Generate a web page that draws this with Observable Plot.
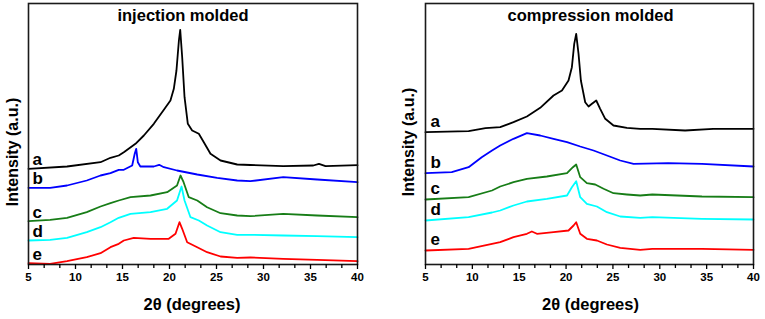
<!DOCTYPE html>
<html>
<head>
<meta charset="utf-8">
<script src="https://cdn.jsdelivr.net/npm/d3@7"></script>
<script src="https://cdn.jsdelivr.net/npm/@observablehq/plot@0.6"></script>
<style>
  body { margin: 0; background: #fff; }
  #wrap { position: relative; width: 765px; height: 319px; overflow: hidden; background: #fff; }
  #wrap svg { position: absolute; top: 0; }
</style>
</head>
<body>
<div id="wrap"></div>
<script>
// ---------- data (2θ in degrees, intensity in arbitrary units) ----------
const seriesNames  = ["a", "b", "c", "d", "e"];
const seriesColors = ["#000000", "#0000ff", "#177d17", "#00ffff", "#ff0000"];
const panelTitles  = ["injection molded", "compression molded"];
const xLabel = "2θ (degrees)";
const yLabel = "Intensity (a.u.)";
const xTicks = [5, 10, 15, 20, 25, 30, 35, 40];
const xMinorTicks = [6.667, 8.333, 11.667, 13.333, 16.667, 18.333, 21.667, 23.333,
                     26.667, 28.333, 31.667, 33.333, 36.667, 38.333];

// injection molded
const injA = [[5,95.7],[9.1,98],[12.66,102.3],[13.72,106.7],[14.6,109],[15.14,112.3],[16.38,120.7],
  [17.27,129],[18.33,140.7],[19.4,154.7],[20.1,164],[20.46,175.7],[20.74,194],[21.0,224],[21.14,234.7],
  [21.35,207.3],[21.6,167.3],[21.95,140.7],[22.41,134],[23.12,130.7],[23.65,122.3],[24.36,110.7],
  [25.43,104],[27.2,100],[28.6,99.5],[32.1,98.3],[35.3,99],[35.9,100.7],[36.6,98.3],[40,99.3]];
const injB = [[5,76.7],[7.3,76.7],[9.1,79],[11.2,84],[12.66,89],[13.72,91.3],[14.6,94.7],[15.14,94.7],
  [16.03,99],[16.3,110.7],[16.46,115.7],[16.63,102.3],[16.9,98],[18.33,98],[18.9,99.7],[19.4,97.3],
  [20.8,94],[22.95,90],[25.07,86.7],[27.2,84],[28.6,83.3],[32.1,87.3],[35.7,85],[40,82.3]];
const injC = [[5,43.3],[7.3,44.7],[9.1,46.7],[11.2,52.3],[12.66,58],[13.72,61.3],[14.6,64],[15.85,67.3],
  [17.98,69],[19.75,72.3],[20.8,79],[21.17,89],[21.5,82.3],[22.05,67.3],[22.95,64],[24.0,57.3],
  [25.43,51.3],[27.2,49],[28.6,48.3],[32.1,50.7],[35.7,49],[40,47.3]];
const injD = [[5,24],[7.3,24.7],[9.1,26.7],[11.2,32.3],[12.66,37.3],[13.72,42.3],[14.6,46.7],[15.85,50.7],
  [17.98,52.3],[19.75,55.7],[20.8,64],[21.28,78],[21.6,64],[22.23,47.3],[23.12,44],[24.0,39],
  [25.43,32.3],[27.2,29.7],[28.6,29.7],[32.1,29],[35.7,28.3],[40,27.3]];
const injE = [[5,1.3],[7.3,0.7],[9.1,3.3],[11.2,7.3],[12.66,11.3],[13.72,17.3],[14.6,20.7],[15.14,24],
  [16.2,26.7],[17.98,25.7],[19.92,25.7],[20.64,30.7],[21.06,42.3],[21.35,35.7],[21.88,22.3],[22.95,17.3],
  [24.0,12.3],[25.43,8],[27.2,6.7],[28.6,7],[32.1,5.7],[35.7,4.7],[40,3.3]];

// compression molded
const cmpA = [[5,132.3],[9.6,133.3],[11.4,136.3],[12.97,137.3],[14.39,142.3],[15.82,148],[17.24,156.7],
  [18.66,169],[19.56,174],[20.26,184],[20.62,197.3],[20.87,220.7],[21.08,230.7],[21.33,210.7],[21.58,184],
  [22.04,162.3],[22.4,158],[22.76,160.7],[23.22,164],[23.64,155.7],[24.18,145.7],[25.06,139],[26.49,136.7],
  [27.91,135.7],[29.2,135.7],[32.7,134],[35.7,135.7],[40,135.7]];
const cmpB = [[5,91.3],[7.8,92.3],[9.6,97.3],[11.0,107.3],[12.1,114],[12.97,119],[14.39,125.7],[15.82,131.3],
  [17.24,129],[18.66,125.7],[20.1,122.3],[21.51,118],[22.93,114],[24.36,109],[25.78,104],[27.2,100.7],
  [30.9,101.3],[34.5,100.7],[40,98]];
const cmpC = [[5,65],[9.6,67.3],[12.1,74],[12.97,78],[14.39,82.3],[15.82,85.7],[17.95,88],[20.1,91.3],
  [20.73,97.3],[21.08,100],[21.51,87.3],[22.22,81.3],[23.11,80],[24.0,75.7],[25.06,71.3],[26.49,70],
  [27.91,69],[29.2,70],[34.5,68],[40,67.3]];
const cmpD = [[5,44],[9.6,47.3],[12.1,52],[12.97,54],[14.39,59],[15.82,63],[17.95,65.7],[20.1,69],
  [20.62,77.3],[21.08,83.3],[21.51,67.3],[22.22,60.7],[23.29,58],[24.36,52.3],[25.78,48],[27.91,46.7],
  [29.2,47.3],[34.5,45.7],[40,45]];
const cmpE = [[5,14],[9.6,15.7],[12.1,20.7],[12.97,22.3],[14.39,27.3],[15.82,30.7],[16.35,33],[16.89,30.7],
  [18.66,32.3],[20.26,34],[20.8,39],[21.08,42.3],[21.51,30.7],[22.22,25.7],[23.29,24],[24.36,20],
  [25.78,16.7],[27.91,14.7],[29.2,15.7],[34.5,15.7],[40,14.7]];

const injSeries = [injA, injB, injC, injD, injE];
const cmpSeries = [cmpA, cmpB, cmpC, cmpD, cmpE];

// ---------- rendering ----------
const FONT = "'Liberation Sans', Arial, Helvetica, sans-serif";

function rows(seriesList) {
  return seriesList.flatMap((pts, i) => pts.map(([x, y]) => ({x, y, s: seriesNames[i]})));
}

function panel({title, seriesList, width, marginLeft, marginRight, labelDx, labelDy,
                yLabDx, yLabDy, titleDx, xLabDx}) {
  const data = rows(seriesList);
  const starts = seriesList.map((pts, i) => ({x: pts[0][0], y: pts[0][1], s: seriesNames[i]}));
  return Plot.plot({
    width, height: 319,
    marginLeft, marginRight, marginTop: 3, marginBottom: 55,
    x: {domain: [5, 40], label: null},
    y: {domain: [0, 261], axis: null},
    color: {domain: seriesNames, range: seriesColors},
    style: {fontFamily: FONT, fontWeight: "bold", background: "transparent", overflow: "visible", color: "#000"},
    marks: [
      Plot.line(data, {x: "x", y: "y", z: "s", stroke: "s", strokeWidth: 1.8, strokeLinejoin: "round"}),
      Plot.frame({stroke: "#1a1a1a", strokeWidth: 1.6}),
      Plot.axisX(xTicks, {anchor: "bottom", tickSize: 5, tickPadding: 3, fontSize: 11.5,
                          strokeWidth: 1.3, label: null}),
      Plot.axisX(xMinorTicks, {anchor: "bottom", tickSize: 4, tickFormat: () => "",
                               strokeWidth: 1.3, label: null}),
      Plot.text(starts, {x: "x", y: "y", text: "s", textAnchor: "start", lineAnchor: "middle",
                         fontSize: 17, fontWeight: "bold", dx: labelDx, dy: labelDy, fill: "#000"}),
      Plot.text([title], {frameAnchor: "top", textAnchor: "middle", lineAnchor: "top", dx: titleDx, dy: 6,
                          fontSize: 16.5, fontWeight: "bold", fill: "#000"}),
      Plot.text([xLabel], {frameAnchor: "bottom", textAnchor: "middle", lineAnchor: "middle",
                           dx: xLabDx, dy: 40, fontSize: 16.5, fontWeight: "bold", fill: "#000"}),
      Plot.text([yLabel], {frameAnchor: "left", textAnchor: "middle", lineAnchor: "middle", rotate: -90,
                           dx: yLabDx, dy: yLabDy, fontSize: 16, fontWeight: "bold", fill: "#000"})
    ]
  });
}

const wrap = document.getElementById("wrap");

const left = panel({
  title: panelTitles[0], seriesList: injSeries, width: 383, marginLeft: 28, marginRight: 26,
  labelDx: 4, labelDy: -9, yLabDx: -16, yLabDy: 18, titleDx: -10, xLabDx: -1
});
left.style.left = "0px";
wrap.appendChild(left);

const right = panel({
  title: panelTitles[1], seriesList: cmpSeries, width: 382, marginLeft: 42, marginRight: 12,
  labelDx: 5, labelDy: -11, yLabDx: -17, yLabDy: 8, titleDx: 1, xLabDx: 1
});
right.style.left = "383px";
wrap.appendChild(right);
</script>
</body>
</html>
